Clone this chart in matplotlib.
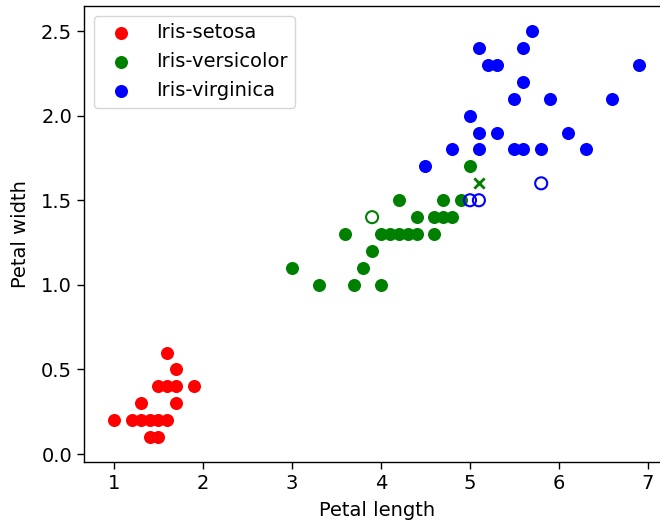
import matplotlib
matplotlib.use("Agg")
import matplotlib.pyplot as plt

# Data (petal length, petal width)
setosa_x = [1.0, 1.2, 1.3, 1.4, 1.5, 1.6, 1.4, 1.5, 1.3, 1.7, 1.5, 1.6, 1.7, 1.9, 1.7, 1.6]
setosa_y = [0.2, 0.2, 0.2, 0.2, 0.2, 0.2, 0.1, 0.1, 0.3, 0.3, 0.4, 0.4, 0.4, 0.4, 0.5, 0.6]

versicolor_x = [3.0, 3.3, 3.7, 4.0, 3.8, 3.9, 3.6, 4.0, 4.1, 4.2, 4.3, 4.4, 4.6,
                4.4, 4.6, 4.7, 4.8, 4.2, 4.7, 4.9, 5.0]
versicolor_y = [1.1, 1.0, 1.0, 1.0, 1.1, 1.2, 1.3, 1.3, 1.3, 1.3, 1.3, 1.3, 1.3,
                1.4, 1.4, 1.4, 1.4, 1.5, 1.5, 1.5, 1.7]
versicolor_open_x = [3.9]
versicolor_open_y = [1.4]
versicolor_cross_x = [5.1]
versicolor_cross_y = [1.6]

virginica_x = [5.7, 5.1, 5.6, 5.2, 5.3, 6.9, 5.6, 5.5, 5.9, 6.6, 5.0, 5.1, 5.3, 6.1,
               4.8, 5.1, 5.5, 5.6, 5.8, 6.3, 4.5]
virginica_y = [2.5, 2.4, 2.4, 2.3, 2.3, 2.3, 2.2, 2.1, 2.1, 2.1, 2.0, 1.9, 1.9, 1.9,
               1.8, 1.8, 1.8, 1.8, 1.8, 1.8, 1.7]
virginica_open_x = [5.0, 5.1, 5.8]
virginica_open_y = [1.5, 1.5, 1.6]

labels = ["Iris-setosa", "Iris-versicolor", "Iris-virginica"]
x_ticks = [1, 2, 3, 4, 5, 6, 7]
y_ticks = [0.0, 0.5, 1.0, 1.5, 2.0, 2.5]

plt.rcParams['font.size'] = 14
plt.rcParams['axes.linewidth'] = 1.0
fig = plt.figure(figsize=(6.6, 5.22), dpi=100)
ax = fig.add_axes([84/660, 60/522, (660-84)/660, 456/522])

S = 88
ax.scatter(setosa_x, setosa_y, c='red', s=S, label=labels[0], linewidths=0)
ax.scatter(versicolor_x, versicolor_y, c='green', s=S, label=labels[1], linewidths=0)
ax.scatter(virginica_x, virginica_y, c='blue', s=S, label=labels[2], linewidths=0)
ax.scatter(versicolor_open_x, versicolor_open_y, facecolors='none', edgecolors='green', s=75, linewidths=1.5)
ax.scatter(versicolor_cross_x, versicolor_cross_y, c='green', marker='x', s=55, linewidths=2)
ax.scatter(virginica_open_x, virginica_open_y, facecolors='none', edgecolors='blue', s=75, linewidths=1.5)

ax.set_xlim(0.663, 7.135)
ax.set_ylim(-0.047, 2.648)
ax.set_xticks(x_ticks)
ax.set_yticks(y_ticks)
ax.set_yticklabels([f"{v:.1f}" for v in y_ticks])
ax.tick_params(length=5, width=1.0)
ax.spines['right'].set_visible(False)
ax.set_xlabel("Petal length", labelpad=7)
ax.xaxis.set_label_coords((377 - 84) / (660 - 84), -0.085)
ax.set_ylabel("Petal width", labelpad=8)
ax.legend(loc='upper left', fontsize=14)

fig.savefig("out.png", dpi=100)
